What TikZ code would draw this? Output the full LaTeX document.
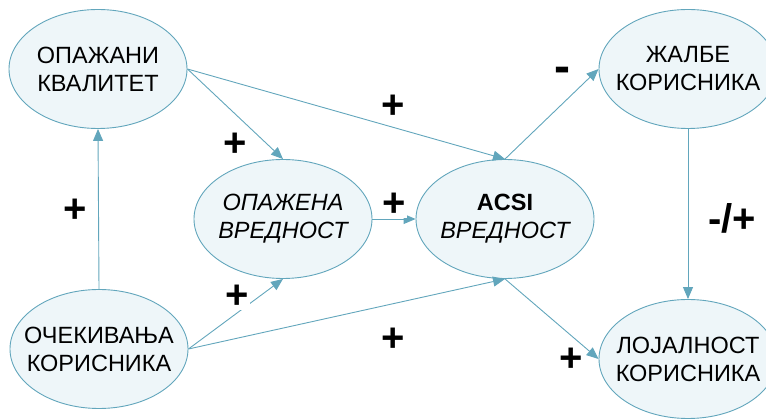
\documentclass[tikz,border=0pt]{standalone}
\usepackage{fontspec}
\setmainfont{Liberation Sans}
\usetikzlibrary{shapes.geometric,arrows.meta}
\definecolor{edgec}{HTML}{62A6BC}
\definecolor{fillc}{HTML}{EEF6F9}
\tikzset{
  ell/.style={ellipse, draw=edgec, fill=fillc, line width=0.9pt,
    minimum width=178pt, minimum height=119pt, inner xsep=-30pt, inner ysep=0pt,
    align=center, font=\fontsize{23.5}{28}\selectfont},
  conn/.style={draw=edgec, line width=0.9pt, -{Triangle[length=12pt,width=10pt]}},
  sign/.style={font=\fontsize{40}{40}\selectfont\bfseries, inner sep=1pt, fill=white}
}
\begin{document}
\begin{tikzpicture}[x=1pt,y=-1pt]
\useasboundingbox (0,0) rectangle (766,419);
\begin{scope}
\clip (0,0) rectangle (766,419);
\node[ell] (A) at (98,69) {ОПАЖАНИ\\КВАЛИТЕТ};
\node[ell] (B) at (99,349) {ОЧЕКИВАЊА\\КОРИСНИКА};
\node[ell] (C) at (283,219) {\itshape ОПАЖЕНА\\\itshape ВРЕДНОСТ};
\node[ell] (D) at (505,219) {\bfseries ACSI\\\itshape ВРЕДНОСТ};
\node[ell] (E) at (688,69) {ЖАЛБЕ\\КОРИСНИКА};
\node[ell] (F) at (688,359) {ЛОЈАЛНОСТ\\КОРИСНИКА};
\end{scope}
\draw[conn] (B.north) -- (A.south);
\draw[conn] (A.east) -- (C.north);
\draw[conn] (A.east) -- (D.north);
\draw[conn] (B.east) -- (C.south);
\draw[conn] (B.east) -- (D.south);
\draw[conn] (C.east) -- (D.west);
\draw[conn] (D.north) -- (E.west);
\draw[conn] (D.south) -- (F.west);
\draw[conn] (E.south) -- (F.north);
\node[sign] (s1) at (75.5,211) {+};
\node[sign] (s2) at (235,145) {+};
\node[sign] (s3) at (393,107) {+};
\node[sign] (s4) at (394.5,205) {+};
\node[sign] (s5) at (237.5,297) {+};
\node[sign] (s6) at (393,340) {+};
\node[sign] (s7) at (571,360) {+};
\node[sign, font=\fontsize{48}{48}\selectfont\bfseries] (s8) at (562.5,75) {-};
\node[sign] (s9) at (732,218) {-/+};
\end{tikzpicture}
\end{document}
